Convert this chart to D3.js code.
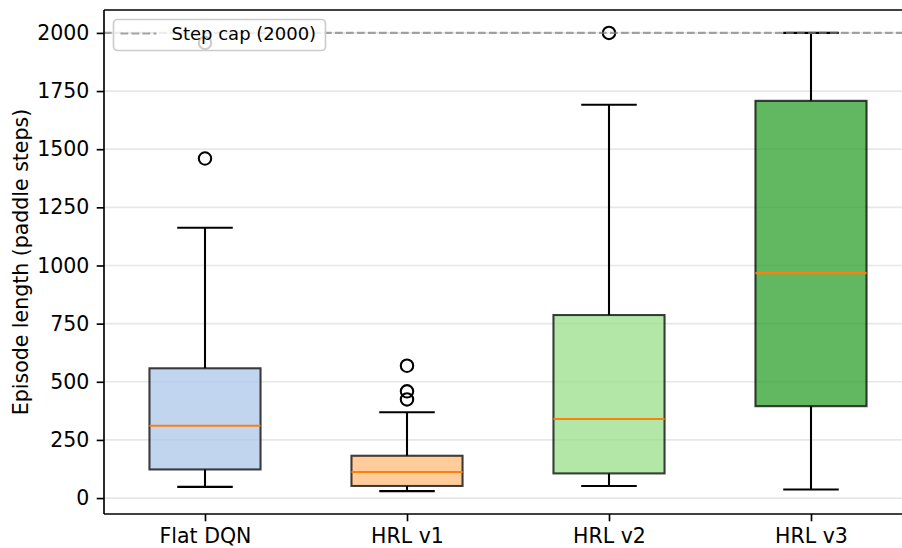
<!DOCTYPE html>
<html>
<head>
<meta charset="utf-8">
<script src="https://cdn.jsdelivr.net/npm/d3@7"></script>
<style>
  html, body { margin: 0; padding: 0; background: #fff; }
  svg { display: block; font-family: "DejaVu Sans", sans-serif; }
</style>
</head>
<body>
<div id="chart"></div>
<script>
// box plot stats per method (episode length in paddle steps)
const categories = ['Flat DQN', 'HRL v1', 'HRL v2', 'HRL v3'];
const q1 = [123, 52, 106, 395];
const medians = [311, 112, 340, 967];
const q3 = [558, 182, 787, 1708];
const whiskerLow = [48, 30, 52, 37];
const whiskerHigh = [1162, 369, 1691, 2000];
const outliers = [[1460, 1957], [424, 459, 569], [2000], []];
const boxColors = ['#aec7e8', '#ffbb78', '#98df8a', '#2ca02c'];
const yTicks = [0, 250, 500, 750, 1000, 1250, 1500, 1750, 2000];
const stepCap = 2000;
const capLabel = 'Step cap (2000)';
const yLabel = 'Episode length (paddle steps)';

const width = 902, height = 548;
const margin = { top: 10, left: 104, bottom: 34 };
const plotW = 808; // right side runs past the canvas edge like the original
const plotH = height - margin.top - margin.bottom;

const svg = d3.select('#chart').append('svg')
  .attr('width', width)
  .attr('height', height);

const g = svg.append('g').attr('transform', `translate(${margin.left},${margin.top})`);

const allVals = whiskerLow.concat(whiskerHigh, outliers.flat());
const [lo, hi] = d3.extent(allVals);
const pad = (hi - lo) * 0.05;

const y = d3.scaleLinear().domain([lo - pad, hi + pad]).range([plotH, 0]);
const x = d3.scaleLinear().domain([0.5, categories.length + 0.5]).range([0, plotW]);
const pos = categories.map((c, i) => i + 1);
const boxW = x(0.55) - x(0);
const capW = boxW / 2;

// grid
g.append('g').selectAll('line')
  .data(yTicks)
  .enter().append('line')
  .attr('x1', 0).attr('x2', plotW)
  .attr('y1', d => y(d)).attr('y2', d => y(d))
  .attr('stroke', '#b0b0b0')
  .attr('stroke-opacity', 0.3)
  .attr('stroke-width', 1.67);

// boxes
const boxes = g.selectAll('.box')
  .data(categories)
  .enter().append('g')
  .attr('class', 'box');

boxes.append('line')
  .attr('x1', (d, i) => x(pos[i])).attr('x2', (d, i) => x(pos[i]))
  .attr('y1', (d, i) => y(whiskerLow[i])).attr('y2', (d, i) => y(q1[i]))
  .attr('stroke', '#000').attr('stroke-width', 2.08);
boxes.append('line')
  .attr('x1', (d, i) => x(pos[i])).attr('x2', (d, i) => x(pos[i]))
  .attr('y1', (d, i) => y(q3[i])).attr('y2', (d, i) => y(whiskerHigh[i]))
  .attr('stroke', '#000').attr('stroke-width', 2.08);
boxes.append('line')
  .attr('x1', (d, i) => x(pos[i]) - capW / 2).attr('x2', (d, i) => x(pos[i]) + capW / 2)
  .attr('y1', (d, i) => y(whiskerLow[i])).attr('y2', (d, i) => y(whiskerLow[i]))
  .attr('stroke', '#000').attr('stroke-width', 2.08);
boxes.append('line')
  .attr('x1', (d, i) => x(pos[i]) - capW / 2).attr('x2', (d, i) => x(pos[i]) + capW / 2)
  .attr('y1', (d, i) => y(whiskerHigh[i])).attr('y2', (d, i) => y(whiskerHigh[i]))
  .attr('stroke', '#000').attr('stroke-width', 2.08);

boxes.append('rect')
  .attr('x', (d, i) => x(pos[i]) - boxW / 2)
  .attr('width', boxW)
  .attr('y', (d, i) => y(q3[i]))
  .attr('height', (d, i) => y(q1[i]) - y(q3[i]))
  .attr('fill', (d, i) => boxColors[i])
  .attr('fill-opacity', 0.75)
  .attr('stroke', '#000')
  .attr('stroke-opacity', 0.75)
  .attr('stroke-width', 2.08);

boxes.append('line')
  .attr('x1', (d, i) => x(pos[i]) - boxW / 2).attr('x2', (d, i) => x(pos[i]) + boxW / 2)
  .attr('y1', (d, i) => y(medians[i])).attr('y2', (d, i) => y(medians[i]))
  .attr('stroke', '#ff7f0e').attr('stroke-width', 2.08);

boxes.selectAll('circle')
  .data((d, i) => outliers[i].map(v => ({ v, i })))
  .enter().append('circle')
  .attr('cx', d => x(pos[d.i]))
  .attr('cy', d => y(d.v))
  .attr('r', 6.2)
  .attr('fill', 'none')
  .attr('stroke', '#000')
  .attr('stroke-width', 2.08);

// step cap line
g.append('line')
  .attr('x1', 0).attr('x2', plotW)
  .attr('y1', y(stepCap)).attr('y2', y(stepCap))
  .attr('stroke', 'gray')
  .attr('stroke-opacity', 0.7)
  .attr('stroke-width', 2.08)
  .attr('stroke-dasharray', '7.7,3.3');

// axes
const yAxis = g.append('g')
  .call(d3.axisLeft(y).tickValues(yTicks).tickFormat(d3.format('d'))
    .tickSize(7.3).tickPadding(7.3).tickSizeOuter(0));
const xAxis = g.append('g')
  .attr('transform', `translate(0,${plotH})`)
  .call(d3.axisBottom(x).tickValues(pos).tickFormat((d, i) => categories[i])
    .tickSize(7.3).tickPadding(7.3).tickSizeOuter(0));

[yAxis, xAxis].forEach(ax => {
  ax.select('.domain').remove();
  ax.selectAll('.tick line').attr('stroke', '#000').attr('stroke-width', 1.67);
  ax.selectAll('.tick text')
    .attr('fill', '#000')
    .style('font-size', '20.5px')
    .style('font-family', '"DejaVu Sans", sans-serif');
});

// spines (left, bottom, top)
g.append('line').attr('x1', 0).attr('x2', 0).attr('y1', 0).attr('y2', plotH)
  .attr('stroke', '#000').attr('stroke-width', 1.67);
g.append('line').attr('x1', 0).attr('x2', plotW).attr('y1', plotH).attr('y2', plotH)
  .attr('stroke', '#000').attr('stroke-width', 1.67);
g.append('line').attr('x1', 0).attr('x2', plotW).attr('y1', 0).attr('y2', 0)
  .attr('stroke', '#000').attr('stroke-width', 1.67);

// y label
svg.append('text')
  .attr('transform', `translate(28,${margin.top + plotH / 2}) rotate(-90)`)
  .attr('text-anchor', 'middle')
  .style('font-size', '20.5px')
  .text(yLabel);

// legend
const leg = g.append('g').attr('transform', 'translate(9.5,9.5)');
leg.append('rect')
  .attr('width', 212).attr('height', 31)
  .attr('rx', 4)
  .attr('fill', '#fff').attr('fill-opacity', 0.8)
  .attr('stroke', '#cccccc').attr('stroke-width', 1.67);
leg.append('line')
  .attr('x1', 7).attr('x2', 43)
  .attr('y1', 14).attr('y2', 14)
  .attr('stroke', 'gray')
  .attr('stroke-opacity', 0.7)
  .attr('stroke-width', 2.08)
  .attr('stroke-dasharray', '7.7,3.3');
leg.append('text')
  .attr('x', 58).attr('y', 14)
  .attr('dy', '0.35em')
  .style('font-size', '18px')
  .text(capLabel);
</script>
</body>
</html>
